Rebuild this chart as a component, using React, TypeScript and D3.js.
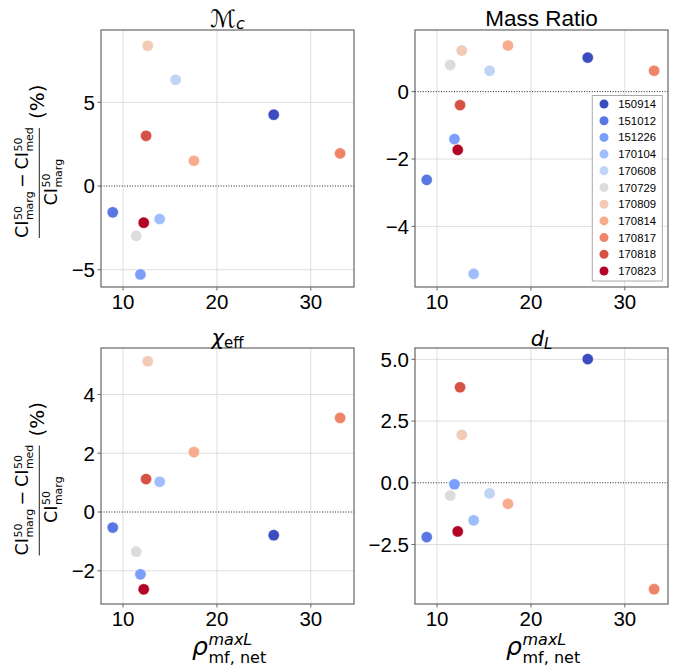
import React from "react";
import * as d3 from "d3";

const EVENTS = ["150914", "151012", "151226", "170104", "170608", "170729", "170809", "170814", "170817", "170818", "170823"];
const RHO = [26.05, 8.9, 11.85, 13.9, 15.6, 11.4, 12.63, 17.55, 33.12, 12.45, 12.2];
const MC_DEV = [4.26, -1.57, -5.28, -1.97, 6.35, -2.97, 8.38, 1.51, 1.95, 3.0, -2.19];
const Q_DEV = [1.01, -2.62, -1.41, -5.41, 0.62, 0.79, 1.22, 1.37, 0.62, -0.4, -1.73];
const CHI_DEV = [-0.79, -0.53, -2.12, 1.03, NaN, -1.35, 5.13, 2.04, 3.2, 1.12, -2.63];
const DL_DEV = [5.01, -2.2, -0.06, -1.52, -0.43, -0.52, 1.94, -0.85, -4.31, 3.87, -1.97];

const X_TICKS = [10, 20, 30];
const MC_TICKS = [-5, 0, 5];
const Q_TICKS = [-4, -2, 0];
const CHI_TICKS = [-2, 0, 2, 4];
const DL_TICKS = [-2.5, 0, 2.5, 5];

const COLORS = ["#3b4cc0", "#5977e3", "#7b9ff9", "#9ebeff", "#c0d4f5", "#dddcdc", "#f2cbb7", "#f7ac8e", "#ee8468", "#d65244", "#b40426"];

const X_DOMAIN = [7.65, 34.6];
const SANS = "'Liberation Sans', Arial, Helvetica, sans-serif";
const MATH = "'DejaVu Sans', sans-serif";

const minus = (s: string) => s.replace(/-/g, "\u2212");

type PanelDef = {
  x0: number; x1: number; y0: number; y1: number;
  yDomain: [number, number];
  ticks: number[];
  fmt: (v: number) => string;
  values: number[];
  title: React.ReactNode;
  legend?: boolean;
  xlabel?: boolean;
  ylabel?: boolean;
};

function YLabel({ cx, cy }: { cx: number; cy: number }) {
  const big = 17.5;
  const sm = 11;
  const t = (x: number, y: number, s: string, size: number) => (
    <text x={x} y={y} fontSize={size} fontFamily={MATH} fill="#000">{s}</text>
  );
  return (
    <g transform={`translate(${cx},${cy}) rotate(-90)`}>
      <line x1={-79.5} x2={30.5} y1={0} y2={0} stroke="#222" strokeWidth={1} />
      {t(-79.5, -11, "CI", big)}
      {t(-61.6, -17.5, "50", sm)}
      {t(-61.6, -6, "marg", sm)}
      {t(-29.6, -11, "\u2212", big)}
      {t(-11, -11, "CI", big)}
      {t(6.9, -17.5, "50", sm)}
      {t(6.9, -6, "med", sm)}
      {t(-47, 18, "CI", big)}
      {t(-29.1, 11, "50", sm)}
      {t(-29.1, 22.4, "marg", sm)}
      {t(39.5, 5, "(%)", 20)}
    </g>
  );
}

function XLabel({ cx }: { cx: number }) {
  return (
    <g>
      <text x={cx - 35.5} y={655} fontSize={25} fontStyle="italic" fontFamily={MATH}>ρ</text>
      <text x={cx - 19} y={645} fontSize={16} fontStyle="italic" fontFamily={MATH}>maxL</text>
      <text x={cx - 19} y={663} fontSize={16} fontFamily={MATH}>mf, net</text>
    </g>
  );
}

function Panel({ p }: { p: PanelDef }) {
  const x = d3.scaleLinear().domain(X_DOMAIN).range([p.x0, p.x1]);
  const y = d3.scaleLinear().domain(p.yDomain).range([p.y1, p.y0]);
  const cx = (p.x0 + p.x1) / 2;
  return (
    <g>
      {X_TICKS.map((t) => (
        <line key={"gx" + t} x1={x(t)} x2={x(t)} y1={p.y0} y2={p.y1} stroke="#dedede" strokeWidth={1} />
      ))}
      {p.ticks.filter((t) => t !== 0).map((t) => (
        <line key={"gy" + t} x1={p.x0} x2={p.x1} y1={y(t)} y2={y(t)} stroke="#dedede" strokeWidth={1} />
      ))}
      <line x1={p.x0} x2={p.x1} y1={y(0)} y2={y(0)} stroke="#222" strokeWidth={1} strokeDasharray="1,1.6" />
      {EVENTS.map((e, i) =>
        Number.isFinite(p.values[i]) ? (
          <circle key={e} cx={x(RHO[i])} cy={y(p.values[i])} r={5.6} fill={COLORS[i]} stroke="#fff" strokeWidth={0.4} />
        ) : null
      )}
      <rect x={p.x0} y={p.y0} width={p.x1 - p.x0} height={p.y1 - p.y0} fill="none" stroke="#666" strokeWidth={1.2} />
      {X_TICKS.map((t) => (
        <g key={"tx" + t}>
          <line x1={x(t)} x2={x(t)} y1={p.y1} y2={p.y1 + 3.5} stroke="#666" strokeWidth={1} />
          <text x={x(t)} y={p.y1 + 22} textAnchor="middle" fontSize={20.5} fontFamily={SANS} fill="#000">{t}</text>
        </g>
      ))}
      {p.ticks.map((t) => (
        <g key={"ty" + t}>
          <line x1={p.x0 - 3.5} x2={p.x0} y1={y(t)} y2={y(t)} stroke="#666" strokeWidth={1} />
          <text x={p.x0 - 6} y={y(t)} dy="0.36em" textAnchor="end" fontSize={20.5} fontFamily={SANS} fill="#000">{minus(p.fmt(t))}</text>
        </g>
      ))}
      {p.title}
      {p.legend ? <Legend x0={592.3} y0={95.5} /> : null}
      {p.xlabel ? <XLabel cx={cx} /> : null}
      {p.ylabel ? <YLabel cx={39.3} cy={(p.y0 + p.y1) / 2} /> : null}
    </g>
  );
}

function Legend({ x0, y0 }: { x0: number; y0: number }) {
  const step = 16.7;
  return (
    <g>
      <rect x={x0} y={y0} width={70} height={185.5} fill="#fff" fillOpacity={0.85} stroke="#aaa" strokeWidth={1} />
      {EVENTS.map((e, i) => (
        <g key={e}>
          <circle cx={x0 + 11.7} cy={y0 + 8.5 + i * step} r={4.5} fill={COLORS[i]} />
          <text x={x0 + 26} y={y0 + 8.5 + i * step} dy="0.36em" fontSize={11.3} fontFamily={SANS} fill="#000">{e}</text>
        </g>
      ))}
    </g>
  );
}

const fmtInt = d3.format("d");
const fmt1 = d3.format(".1f");

export default function App() {
  const panels: PanelDef[] = [
    {
      x0: 101, x1: 354, y0: 30, y1: 287, yDomain: [-6.03, 9.32], ticks: MC_TICKS, fmt: fmtInt, values: MC_DEV, ylabel: true,
      title: (
        <text x={227.5} y={26.5} textAnchor="middle" fontFamily={MATH} fontSize={24}>
          <tspan fontStyle="italic">ℳ</tspan>
          <tspan fontStyle="italic" fontSize={16} dy={2}>c</tspan>
        </text>
      ),
    },
    {
      x0: 415, x1: 668, y0: 30, y1: 287, yDomain: [-5.8, 1.83], ticks: Q_TICKS, fmt: fmtInt, values: Q_DEV, legend: true,
      title: (
        <text x={541.5} y={26} textAnchor="middle" fontFamily={SANS} fontSize={22.5}>Mass Ratio</text>
      ),
    },
    {
      x0: 101, x1: 354, y0: 348, y1: 604, yDomain: [-3.13, 5.58], ticks: CHI_TICKS, fmt: fmtInt, values: CHI_DEV, ylabel: true, xlabel: true,
      title: (
        <text x={227.5} y={345} textAnchor="middle" fontFamily={MATH} fontSize={21}>
          <tspan fontStyle="italic">χ</tspan>
          <tspan fontSize={15} dy={3}>eff</tspan>
        </text>
      ),
    },
    {
      x0: 415, x1: 668, y0: 348, y1: 604, yDomain: [-4.91, 5.46], ticks: DL_TICKS, fmt: fmt1, values: DL_DEV, xlabel: true,
      title: (
        <text x={541.5} y={346} textAnchor="middle" fontFamily={MATH} fontSize={21}>
          <tspan fontStyle="italic">d</tspan>
          <tspan fontStyle="italic" fontSize={15} dy={3}>L</tspan>
        </text>
      ),
    },
  ];
  return (
    <svg width={678} height={669} style={{ position: "absolute", left: 0, top: 0, display: "block", background: "#fff" }}>
      <rect x={0} y={0} width={678} height={669} fill="#fff" />
      {panels.map((p, i) => (
        <Panel key={i} p={p} />
      ))}
    </svg>
  );
}
